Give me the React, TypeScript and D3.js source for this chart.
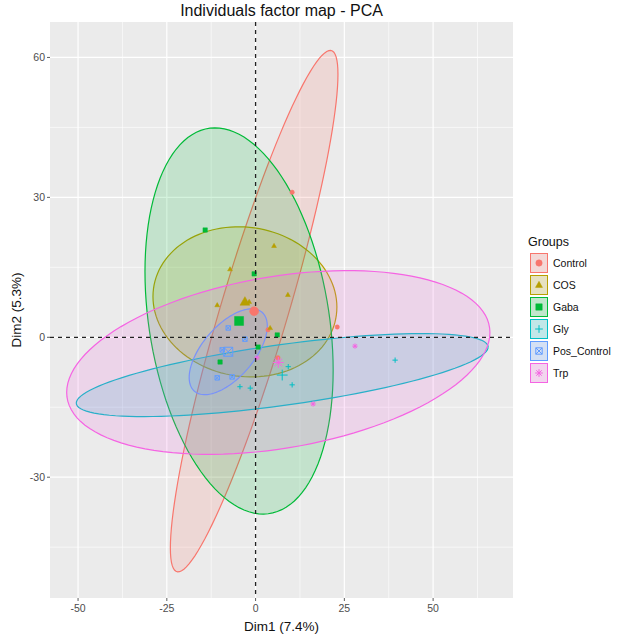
import React from 'react';
import * as d3 from 'd3';

const groups = ['Control', 'COS', 'Gaba', 'Gly', 'Pos_Control', 'Trp'];
const colors = ['#F8766D', '#B79F00', '#00BA38', '#00BFC4', '#619CFF', '#F564E3'];
const shapes = ['circle', 'triangle', 'square', 'plus', 'squareCross', 'asterisk'];

// individuals per group [Dim1, Dim2]
const controlPts = [[10.3, 31.1], [23.0, 2.2], [6.3, -4.4], [3.5, 1.6]];
const cosPts = [[5.2, 19.6], [-7.2, 14.6], [9.1, 9.1], [-1.8, 7.6], [4.1, 2.0], [-10.8, 6.9]];
const gabaPts = [[-14.2, 23.0], [-0.4, 13.6], [6.1, 0.5], [0.7, -2.1], [-10.0, -5.3]];
const glyPts = [[39.3, -4.9], [9.2, -6.3], [10.3, -10.2], [-4.4, -10.6], [-1.5, -10.9]];
const posPts = [[-9.4, -2.7], [-7.7, 2.0], [-3.0, -0.4], [-6.6, -8.5], [-10.8, -8.7]];
const trpPts = [[-0.1, 5.4], [28.0, -1.9], [0.4, -4.4], [16.2, -14.3]];
const groupPts = [controlPts, cosPts, gabaPts, glyPts, posPts, trpPts];

// concentration ellipses: center, half-range on each axis, correlation
const ellCx = [-0.4, -3.0, -4.65, 7.5, -7.7, 6.4];
const ellCy = [5.6, 7.6, 3.5, -8.1, -3.1, -5.4];
const ellRx = [23.6, 25.9, 26.5, 58.0, 11.0, 59.6];
const ellRy = [55.9, 16.1, 41.4, 8.9, 9.2, 19.7];
const ellR = [0.908, -0.07, -0.255, 0.675, 0.6, 0.326];

const xTicks = [-50, -25, 0, 25, 50];
const yTicks = [-30, 0, 30, 60];
const xMinor = [-37.5, -12.5, 12.5, 37.5, 62.5];
const yMinor = [-45, -15, 15, 45];

const FONT = '"Liberation Sans", Arial, sans-serif';

function shapePath(shape: string, size: number): { d: string; filled: boolean } {
  const s = size;
  switch (shape) {
    case 'circle':
      return { d: d3.symbol(d3.symbolCircle, Math.PI * s * s)() as string, filled: true };
    case 'triangle': {
      const h = s * 1.15;
      return { d: `M0,${-h}L${h * 0.95},${h * 0.65}L${-h * 0.95},${h * 0.65}Z`, filled: true };
    }
    case 'square':
      return { d: `M${-s},${-s}H${s}V${s}H${-s}Z`, filled: true };
    case 'plus':
      return { d: `M${-s * 1.2},0H${s * 1.2}M0,${-s * 1.2}V${s * 1.2}`, filled: false };
    case 'squareCross':
      return { d: `M${-s},${-s}H${s}V${s}H${-s}ZM${-s},${-s}L${s},${s}M${s},${-s}L${-s},${s}`, filled: false };
    default: {
      const a = s * 1.2, b = s * 0.85;
      return { d: `M${-a},0H${a}M0,${-a}V${a}M${-b},${-b}L${b},${b}M${b},${-b}L${-b},${b}`, filled: false };
    }
  }
}

function Marker({ shape, color, x, y, size }: any) {
  const p = shapePath(shape, size);
  return (
    <path
      d={p.d}
      transform={`translate(${x},${y})`}
      fill={p.filled ? color : 'none'}
      stroke={color}
      strokeWidth={p.filled ? 0.5 : 1}
    />
  );
}

export default function App() {
  const W = 640, H = 636;
  const pl = 50, pr = 513, pt = 22, pb = 598;
  const x = d3.scaleLinear().domain([-57.9, 72.5]).range([pl, pr]);
  const y = d3.scaleLinear().domain([-55.9, 67.6]).range([pb, pt]);

  const ellipsePath = (i: number) => {
    const n = 120;
    const pts: [number, number][] = d3.range(n + 1).map((k) => {
      const t = (k / n) * 2 * Math.PI;
      const r = ellR[i];
      const ex = ellCx[i] + ellRx[i] * Math.cos(t);
      const ey = ellCy[i] + ellRy[i] * (r * Math.cos(t) + Math.sqrt(1 - r * r) * Math.sin(t));
      return [x(ex), y(ey)];
    });
    return d3.line()(pts) as string;
  };

  return (
    <svg width={W} height={H} style={{ position: 'absolute', left: 0, top: 0, background: '#fff' }}>
      <defs>
        <clipPath id="panelClip">
          <rect x={pl} y={pt} width={pr - pl} height={pb - pt} />
        </clipPath>
      </defs>
      <rect x={0} y={0} width={W} height={H} fill="#ffffff" />
      {/* panel */}
      <rect x={pl} y={pt} width={pr - pl} height={pb - pt} fill="#EBEBEB" />
      {xMinor.map((v) => (
        <line key={'xm' + v} x1={x(v)} x2={x(v)} y1={pt} y2={pb} stroke="#fff" strokeWidth={0.6} />
      ))}
      {yMinor.map((v) => (
        <line key={'ym' + v} x1={pl} x2={pr} y1={y(v)} y2={y(v)} stroke="#fff" strokeWidth={0.6} />
      ))}
      {xTicks.map((v) => (
        <line key={'xg' + v} x1={x(v)} x2={x(v)} y1={pt} y2={pb} stroke="#fff" strokeWidth={1.2} />
      ))}
      {yTicks.map((v) => (
        <line key={'yg' + v} x1={pl} x2={pr} y1={y(v)} y2={y(v)} stroke="#fff" strokeWidth={1.2} />
      ))}

      {/* ellipses */}
      <g clipPath="url(#panelClip)">
        {groups.map((g, i) => (
          <path key={'e' + g} d={ellipsePath(i)} fill={colors[i]} fillOpacity={0.17} stroke={colors[i]} strokeWidth={1.2} />
        ))}
      </g>

      {/* individuals */}
      {groups.map((g, i) =>
        groupPts[i].map((p, j) => (
          <Marker key={g + j} shape={shapes[i]} color={colors[i]} x={x(p[0])} y={y(p[1])} size={2.2} />
        ))
      )}

      {/* reference lines */}
      <line x1={pl} x2={pr} y1={y(0)} y2={y(0)} stroke="#222" strokeWidth={1.3} strokeDasharray="4,4" />
      <line x1={x(0)} x2={x(0)} y1={pt} y2={pb} stroke="#222" strokeWidth={1.3} strokeDasharray="4,4" />

      {/* group means */}
      {groups.map((g, i) => (
        <Marker key={'m' + g} shape={shapes[i]} color={colors[i]} x={x(ellCx[i])} y={y(ellCy[i])} size={4.5} />
      ))}

      {/* axes ticks and labels */}
      {xTicks.map((v) => (
        <g key={'xt' + v}>
          <line x1={x(v)} x2={x(v)} y1={pb} y2={pb + 3} stroke="#333" strokeWidth={0.8} />
          <text x={x(v)} y={pb + 14} textAnchor="middle" fontSize={10.5} fill="#4D4D4D" fontFamily={FONT}>
            {v}
          </text>
        </g>
      ))}
      {yTicks.map((v) => (
        <g key={'yt' + v}>
          <line x1={pl - 3} x2={pl} y1={y(v)} y2={y(v)} stroke="#333" strokeWidth={0.8} />
          <text x={pl - 5} y={y(v) + 3.7} textAnchor="end" fontSize={10.5} fill="#4D4D4D" fontFamily={FONT}>
            {v}
          </text>
        </g>
      ))}

      <text x={(pl + pr) / 2} y={16} textAnchor="middle" fontSize={16} fill="#111" fontFamily={FONT}>
        Individuals factor map - PCA
      </text>
      <text x={(pl + pr) / 2} y={631} textAnchor="middle" fontSize={13.5} fill="#111" fontFamily={FONT}>
        Dim1 (7.4%)
      </text>
      <text
        transform={`translate(21,${(pt + pb) / 2}) rotate(-90)`}
        textAnchor="middle"
        fontSize={13.5}
        fill="#111"
        fontFamily={FONT}
      >
        Dim2 (5.3%)
      </text>

      {/* legend */}
      <text x={528} y={246} fontSize={12.5} fill="#111" fontFamily={FONT}>
        Groups
      </text>
      {groups.map((g, i) => {
        const cy = 263 + i * 22;
        return (
          <g key={'lg' + g}>
            <rect x={530} y={cy - 10} width={18} height={20} fill="#F2F2F2" />
            <rect x={530.5} y={cy - 9.5} width={17} height={19} fill={colors[i]} fillOpacity={0.2} stroke={colors[i]} strokeWidth={1} />
            <Marker shape={shapes[i]} color={colors[i]} x={539} y={cy} size={3.2} />
            <text x={553} y={cy + 3.5} fontSize={10.5} fill="#111" fontFamily={FONT}>
              {g}
            </text>
          </g>
        );
      })}
    </svg>
  );
}
